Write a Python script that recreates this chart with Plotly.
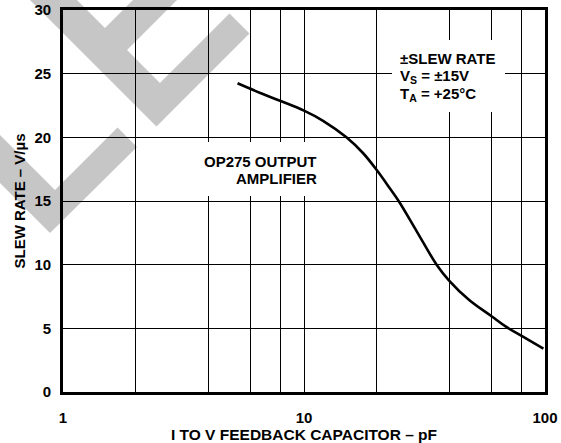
import plotly.graph_objects as go

# ---- data ----
capacitance_pf = [5.3, 6.75, 8, 10, 12, 15, 17.6, 20, 22.7, 24.7, 29.4, 35.5, 40, 48.6, 60, 68.6, 80, 98.5]
slew_rate = [24.25, 23.4, 22.85, 22.1, 21.3, 20.0, 18.75, 17.45, 16.0, 15.0, 12.6, 10.0, 8.75, 7.2, 5.95, 5.15, 4.4, 3.4]

x_tickvals = [1, 10, 100]
x_ticktext = ["1", "10", "100"]
x_minor_grid = [2, 4, 6, 8, 20, 40, 60, 80]
y_tickvals = [0, 5, 10, 15, 20, 25, 30]
y_ticktext = ["0", "5", "10", "15", "20", "25", "30"]

x_title = "I TO V FEEDBACK CAPACITOR – pF"
y_title = "SLEW RATE – V/µs"
curve_label = ["OP275 OUTPUT", "AMPLIFIER"]
cond_label = ["±SLEW RATE", "V<sub>S</sub> = ±15V", "T<sub>A</sub> = +25°C"]

# ---- layout geometry ----
W, H = 561, 443
L, R, T, B = 63, 545, 10, 392
FONT = "Liberation Sans, Arial, Helvetica, sans-serif"


def px(x):
    return (x - L) / (R - L)


def py(y):
    return (B - y) / (B - T)


def path(points):
    return "M " + " L ".join(f"{px(a):.4f},{py(b):.4f}" for a, b in points) + " Z"


fig = go.Figure()
fig.add_trace(go.Scatter(
    x=capacitance_pf, y=slew_rate, mode="lines",
    line=dict(color="black", width=2.6, shape="spline", smoothing=1.0),
    showlegend=False, hoverinfo="skip",
))

shapes = []
# grey watermark (behind the grid)
wm1 = [(10, -20), (156.5, 126.5), (249.5, 33.5), (229.5, 13.5), (160, 83), (127, 50),
       (197, -20), (153, -20), (105, 28), (57, -20)]
wm2 = [(-20, 163), (50, 233), (137, 147), (117.5, 127.5), (55, 190), (-20, 115)]
for poly in (wm1, wm2):
    shapes.append(dict(type="path", xref="paper", yref="paper", path=path(poly),
                       fillcolor="#c6c6c6", line=dict(width=0), layer="below"))
# white boxes behind labels (break the grid lines)
for (x0, y0, x1, y1) in [(195, 142, 330, 196), (392, 40, 505, 112)]:
    shapes.append(dict(type="rect", xref="paper", yref="paper",
                       x0=px(x0), x1=px(x1), y0=py(y1), y1=py(y0),
                       fillcolor="white", line=dict(width=0), layer="above"))

annotations = []
for text, yc in zip(curve_label, [161, 178]):
    annotations.append(dict(text=text, xref="paper", yref="paper", x=px(319), y=py(yc),
                            xanchor="right", yanchor="middle", showarrow=False,
                            font=dict(family=FONT, size=15, color="black", weight="bold")))
for text, yc in zip(cond_label, [58, 76, 94]):
    annotations.append(dict(text=text, xref="paper", yref="paper", x=px(398), y=py(yc),
                            xanchor="left", yanchor="middle", showarrow=False,
                            font=dict(family=FONT, size=15, color="black", weight="bold")))

fig.update_layout(
    width=W, height=H,
    margin=dict(l=L, r=W - R, t=T, b=H - B, autoexpand=False),
    paper_bgcolor="white", plot_bgcolor="rgba(0,0,0,0)",
    shapes=shapes, annotations=annotations,
    font=dict(family=FONT, color="black"),
)
fig.update_xaxes(
    type="log", range=[0, 2], tickvals=x_tickvals, ticktext=x_ticktext,
    showgrid=True, gridcolor="black", gridwidth=1.3,
    minor=dict(tickvals=x_minor_grid, showgrid=True, gridcolor="black", gridwidth=1.3, ticks=""),
    showline=True, linecolor="black", linewidth=2.6, mirror=True,
    ticks="", ticklabelstandoff=10,
    tickfont=dict(family=FONT, size=15, color="black", weight="bold"),
    title=dict(text=x_title, standoff=5, font=dict(family=FONT, size=15.5, color="black", weight="bold")),
    zeroline=False, automargin=False,
)
fig.update_yaxes(
    range=[0, 30], tickvals=y_tickvals, ticktext=y_ticktext,
    showgrid=True, gridcolor="black", gridwidth=1.3,
    showline=True, linecolor="black", linewidth=2.6, mirror=True,
    ticks="", ticklabelstandoff=6,
    tickfont=dict(family=FONT, size=15, color="black", weight="bold"),
    title=dict(text=y_title, standoff=6, font=dict(family=FONT, size=15, color="black", weight="bold")),
    zeroline=False, automargin=False,
)

fig.write_html("out.html", config={"displayModeBar": False},
               post_script="document.body.style.margin='0';")
